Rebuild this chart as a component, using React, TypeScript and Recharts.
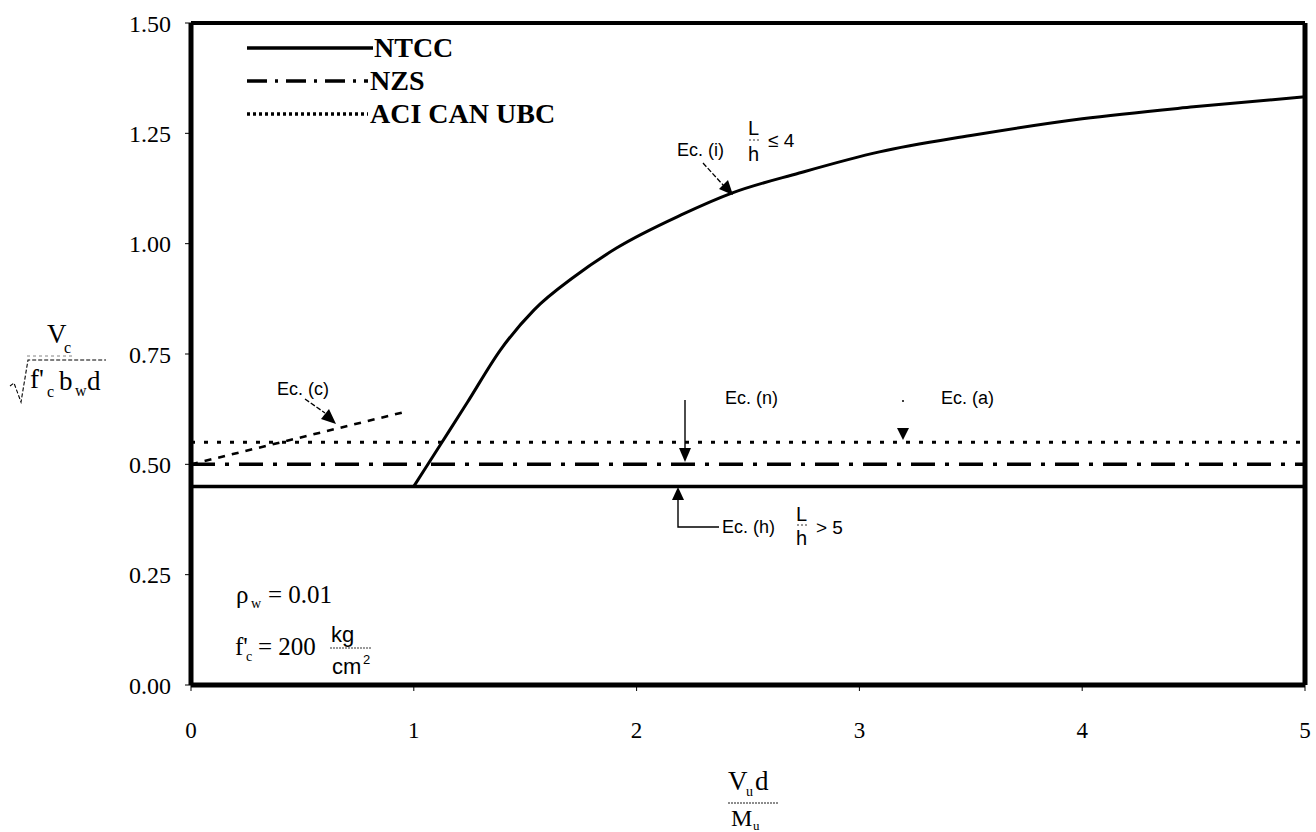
import React from "react";
import { ComposedChart, Line, XAxis, YAxis } from "recharts";

// ---- data ----
const xTicks = [0, 1, 2, 3, 4, 5];
const yTicks = [0, 0.25, 0.5, 0.75, 1.0, 1.25, 1.5];

// NTCC, Ec. (i)  L/h <= 4
const ntccIX = [1.0, 1.12, 1.24, 1.39, 1.54, 1.72, 1.91, 2.2, 2.43, 2.73, 3.09, 3.5, 4.0, 4.5, 5.0];
const ntccIY = [0.45, 0.545, 0.64, 0.76, 0.85, 0.925, 0.99, 1.065, 1.115, 1.16, 1.208, 1.245, 1.283, 1.31, 1.333];
// NTCC, Ec. (h)  L/h > 5
const ntccHX = [0, 5];
const ntccHY = [0.45, 0.45];
// NZS, Ec. (n)
const nzsX = [0, 5];
const nzsY = [0.5, 0.5];
// ACI CAN UBC, Ec. (a)
const aciX = [0, 5];
const aciY = [0.55, 0.55];
// ACI CAN UBC, Ec. (c)
const ecCX = [0, 0.97];
const ecCY = [0.5, 0.62];

const legendItems = [
  { name: "NTCC", dash: undefined as string | undefined },
  { name: "NZS", dash: "20 8 3 8" },
  { name: "ACI CAN UBC", dash: "3 3" },
];

const zip = (xs: number[], ys: number[]) => xs.map((x, i) => ({ x, y: ys[i] }));

const SERIF = "'Liberation Serif', 'Times New Roman', serif";
const SANS = "'Liberation Sans', Arial, sans-serif";

const W = 1316;
const H = 832;

function Overlay() {
  return (
    <svg
      width={W}
      height={H}
      style={{ position: "absolute", left: 0, top: 0, pointerEvents: "none" }}
    >
      {/* legend */}
      {legendItems.map((it, i) => {
        const y = 48 + i * 33;
        return (
          <g key={it.name}>
            <line
              x1={247}
              x2={i === 0 ? 373 : 368}
              y1={y}
              y2={y}
              stroke="#000"
              strokeWidth={3.5}
              strokeDasharray={it.dash}
            />
            <text x={i === 0 ? 374 : 370} y={y + 9} fontFamily={SERIF} fontWeight="bold" fontSize={28} fill="#000">
              {it.name}
            </text>
          </g>
        );
      })}

      {/* Ec. (i) */}
      <text x={677} y={156} fontFamily={SANS} fontSize={18} fill="#000">Ec. (i)</text>
      <text x={748} y={135} fontFamily={SANS} fontSize={20} fill="#000">L</text>
      <line x1={749} x2={760} y1={140} y2={140} stroke="#000" strokeWidth={0.8} strokeDasharray="2 2" />
      <text x={748} y={161} fontFamily={SANS} fontSize={20} fill="#000">h</text>
      <text x={768} y={147} fontFamily={SANS} fontSize={19} fill="#000">≤ 4</text>
      <line x1={703} y1={163} x2={724} y2={186} stroke="#000" strokeWidth={1.3} strokeDasharray="5 2" />
      <polygon points="733,195 719,189 728,180" fill="#000" />

      {/* Ec. (c) */}
      <text x={277} y={395} fontFamily={SANS} fontSize={18} fill="#000">Ec. (c)</text>
      <line x1={305} y1={399} x2={325} y2={413} stroke="#000" strokeWidth={1.3} strokeDasharray="5 2" />
      <polygon points="336,424 321,419 329,409" fill="#000" />

      {/* Ec. (n) */}
      <text x={725} y={404} fontFamily={SANS} fontSize={18} fill="#000">Ec. (n)</text>
      <line x1={685} y1={400} x2={685} y2={450} stroke="#000" strokeWidth={1.4} />
      <polygon points="679,448 691,448 685,462" fill="#000" />

      {/* Ec. (a) */}
      <text x={941} y={404} fontFamily={SANS} fontSize={18} fill="#000">Ec. (a)</text>
      <circle cx={903} cy={401} r={1} fill="#000" />
      <polygon points="897,428 909,428 903,440" fill="#000" />

      {/* Ec. (h) */}
      <polygon points="672,500 684,500 678,487" fill="#000" />
      <polyline points="678,500 678,527 719,527" fill="none" stroke="#000" strokeWidth={1.4} />
      <text x={722} y={533} fontFamily={SANS} fontSize={18} fill="#000">Ec. (h)</text>
      <text x={796} y={521} fontFamily={SANS} fontSize={20} fill="#000">L</text>
      <line x1={797} x2={808} y1={525} y2={525} stroke="#000" strokeWidth={0.8} strokeDasharray="2 2" />
      <text x={796} y={545} fontFamily={SANS} fontSize={20} fill="#000">h</text>
      <text x={816} y={534} fontFamily={SANS} fontSize={19} fill="#000">&gt; 5</text>

      {/* parameters */}
      <text x={236} y={603} fontFamily={SERIF} fontSize={25} fill="#000">ρ</text>
      <text x={251} y={608} fontFamily={SERIF} fontSize={14} fill="#000">w</text>
      <text x={268} y={603} fontFamily={SERIF} fontSize={25} fill="#000">= 0.01</text>
      <text x={235} y={655} fontFamily={SERIF} fontSize={25} fill="#000">f'</text>
      <text x={246} y={661} fontFamily={SERIF} fontSize={14} fill="#000">c</text>
      <text x={258} y={655} fontFamily={SERIF} fontSize={25} fill="#000">= 200</text>
      <text x={331} y={642} fontFamily={SANS} fontSize={22} fill="#000">kg</text>
      <line x1={330} x2={372} y1={648} y2={648} stroke="#000" strokeWidth={0.8} strokeDasharray="2 1" />
      <text x={332} y={674} fontFamily={SANS} fontSize={22} fill="#000">cm</text>
      <text x={363} y={664} fontFamily={SANS} fontSize={13} fill="#000">2</text>

      {/* y-axis title */}
      <text x={47} y={343} fontFamily={SERIF} fontSize={27} fill="#000">V</text>
      <text x={64} y={353} fontFamily={SERIF} fontSize={16} fill="#000">c</text>
      <line x1={27} x2={72} y1={356} y2={356} stroke="#666" strokeWidth={0.8} strokeDasharray="3 3" />
      <polyline points="10,386 14,383 21,402 28,360 106,360" fill="none" stroke="#000" strokeWidth={1.1} strokeDasharray="4 2" />
      <text x={30} y={388} fontFamily={SERIF} fontSize={27} fill="#000">f'</text>
      <text x={47} y={397} fontFamily={SERIF} fontSize={16} fill="#000">c</text>
      <text x={59} y={390} fontFamily={SERIF} fontSize={27} fill="#000">b</text>
      <text x={75} y={396} fontFamily={SERIF} fontSize={16} fill="#000">w</text>
      <text x={87} y={390} fontFamily={SERIF} fontSize={27} fill="#000">d</text>

      {/* x-axis title */}
      <text x={728} y={790} fontFamily={SERIF} fontSize={27} fill="#000">V</text>
      <text x={746} y={796} fontFamily={SERIF} fontSize={14} fill="#000">u</text>
      <text x={755} y={790} fontFamily={SERIF} fontSize={27} fill="#000">d</text>
      <line x1={728} x2={778} y1={803} y2={803} stroke="#000" strokeWidth={0.9} strokeDasharray="2 1" />
      <text x={731} y={826} fontFamily={SERIF} fontSize={24} fill="#000">M</text>
      <text x={753} y={830} fontFamily={SERIF} fontSize={13} fill="#000">u</text>
    </svg>
  );
}

export default function App() {
  return (
    <div style={{ position: "absolute", left: 0, top: 0, width: W, height: H, background: "#fff", overflow: "hidden" }}>
      <ComposedChart width={W} height={H} margin={{ top: 0, right: 0, bottom: 0, left: 0 }}>
        <XAxis
          xAxisId={0}
          dataKey="x"
          type="number"
          domain={[0, 5]}
          ticks={xTicks}
          height={147}
          axisLine={{ stroke: "#000", strokeWidth: 5 }}
          tickLine={{ stroke: "#000", strokeWidth: 1 }}
          tickSize={6}
          tickMargin={31}
          tick={{ fill: "#000", fontSize: 23, fontFamily: SERIF }}
          allowDataOverflow
        />
        <XAxis
          xAxisId="top"
          orientation="top"
          type="number"
          domain={[0, 5]}
          height={23}
          tick={false}
          tickLine={false}
          axisLine={{ stroke: "#000", strokeWidth: 4 }}
        />
        <YAxis
          yAxisId={0}
          type="number"
          domain={[0, 1.5]}
          ticks={yTicks}
          width={191}
          axisLine={{ stroke: "#000", strokeWidth: 5 }}
          tickLine={{ stroke: "#000", strokeWidth: 1 }}
          tickSize={6}
          tickMargin={14}
          tickFormatter={(v: number) => v.toFixed(2)}
          tick={{ fill: "#000", fontSize: 24, fontFamily: SERIF }}
          allowDataOverflow
        />
        <YAxis
          yAxisId="right"
          orientation="right"
          type="number"
          domain={[0, 1.5]}
          width={11}
          tick={false}
          tickLine={false}
          axisLine={{ stroke: "#000", strokeWidth: 5 }}
        />
        <Line data={zip(ntccHX, ntccHY)} dataKey="y" type="linear" stroke="#000" strokeWidth={3.5} dot={false} isAnimationActive={false} />
        <Line data={zip(ntccIX, ntccIY)} dataKey="y" type="monotone" stroke="#000" strokeWidth={3} dot={false} isAnimationActive={false} />
        <Line data={zip(nzsX, nzsY)} dataKey="y" type="linear" stroke="#000" strokeWidth={3.5} strokeDasharray="24 10 4 10" dot={false} isAnimationActive={false} />
        <Line data={zip(aciX, aciY)} dataKey="y" type="linear" stroke="#000" strokeWidth={2.8} strokeDasharray="4 9" dot={false} isAnimationActive={false} />
        <Line data={zip(ecCX, ecCY)} dataKey="y" type="linear" stroke="#000" strokeWidth={2.6} strokeDasharray="7 7" dot={false} isAnimationActive={false} />
      </ComposedChart>
      <Overlay />
    </div>
  );
}
